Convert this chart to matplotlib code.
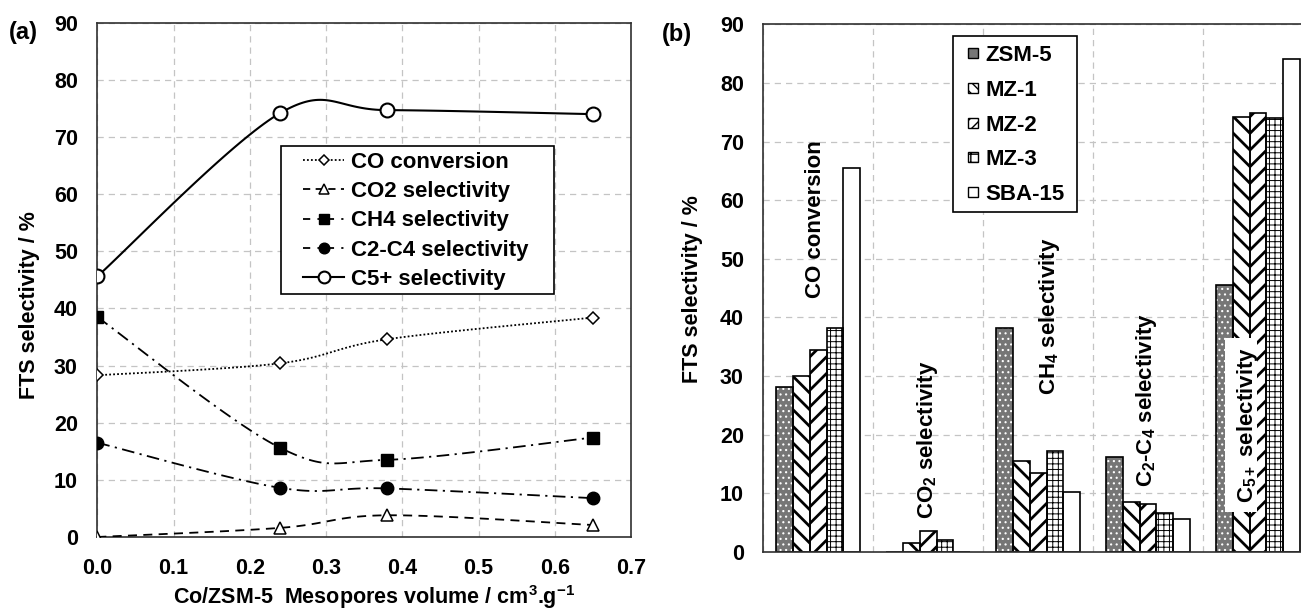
import numpy as np
import matplotlib
matplotlib.use('Agg')
import matplotlib.pyplot as plt
from matplotlib.patches import Rectangle
from matplotlib.lines import Line2D

# ---------------- data ----------------
meso_volume = [0.0, 0.24, 0.38, 0.65]
co_conversion = [28.3, 30.4, 34.6, 38.4]
co2_sel = [0.0, 1.6, 3.8, 2.1]
ch4_sel = [38.5, 15.6, 13.5, 17.4]
c2c4_sel = [16.5, 8.6, 8.5, 6.8]
c5_sel = [45.6, 74.2, 74.7, 74.0]
line_labels = ['CO conversion', 'CO2 selectivity', 'CH4 selectivity',
               'C2-C4 selectivity', 'C5+ selectivity']

bar_groups = ['CO conversion', 'CO$_2$ selectivity', 'CH$_4$ selectivity',
              'C$_2$-C$_4$ selectivity', 'C$_{5+}$ selectivity']
catalysts = ['ZSM-5', 'MZ-1', 'MZ-2', 'MZ-3', 'SBA-15']
zsm5 = [28.1, 0.0, 38.2, 16.2, 45.5]
mz1 = [30.1, 1.5, 15.5, 8.5, 74.2]
mz2 = [34.4, 3.5, 13.5, 8.2, 74.8]
mz3 = [38.2, 2.0, 17.2, 6.6, 74.0]
sba15 = [65.5, 0.0, 10.3, 5.6, 84.0]

x_ticks_a = [0.0, 0.1, 0.2, 0.3, 0.4, 0.5, 0.6, 0.7]
y_ticks = [0, 10, 20, 30, 40, 50, 60, 70, 80, 90]

# ---------------- style ----------------
plt.rcParams['font.family'] = ['Liberation Sans', 'DejaVu Sans']
plt.rcParams['font.weight'] = 'bold'
plt.rcParams['mathtext.fontset'] = 'custom'
plt.rcParams['mathtext.rm'] = 'Liberation Sans:bold'
plt.rcParams['mathtext.it'] = 'Liberation Sans:bold'
plt.rcParams['mathtext.bf'] = 'Liberation Sans:bold'
plt.rcParams['mathtext.default'] = 'rm'
plt.rcParams['hatch.linewidth'] = 1.8

W, H = 1301, 609
fig = plt.figure(figsize=(W / 100, H / 100), dpi=100)

TICK_FS = 15.5
LAB_FS = 15.5
LEG_FS = 16
GRID = dict(color='#c4c4c4', linestyle=(0, (5, 4)), linewidth=0.9)


def px_rect(l, t, r, b):
    return [l / W, 1 - b / H, (r - l) / W, (b - t) / H]


def smooth(xs, ys, n=40):
    """Excel-like smoothed line (Catmull-Rom Bezier) through the data points."""
    p = np.column_stack([xs, ys]).astype(float)
    pts = np.vstack([p[0], p, p[-1]])
    t = np.linspace(0, 1, n)[:, None]
    out = []
    for i in range(1, len(pts) - 2):
        p0, p1, p2, p3 = pts[i - 1], pts[i], pts[i + 1], pts[i + 2]
        c1 = p1 + (p2 - p0) / 6
        c2 = p2 - (p3 - p1) / 6
        seg = ((1 - t) ** 3) * p1 + 3 * ((1 - t) ** 2) * t * c1 + 3 * (1 - t) * t ** 2 * c2 + t ** 3 * p2
        out.append(seg if i == 1 else seg[1:])
    s = np.vstack(out)
    return s[:, 0], s[:, 1]


# ================= panel (a) =================
ax = fig.add_axes(px_rect(97.3, 22.7, 631, 537))
series = [
    (co_conversion, dict(ls=(0, (1, 1.2)), lw=1.3), dict(marker='D', ms=6, mfc='white', mew=1.1),
     dict(ls=(0, (1, 1.2)))),
    (co2_sel, dict(ls=(0, (5, 3.5)), lw=1.3), dict(marker='^', ms=8, mfc='white', mew=1.1),
     dict(ls=(0, (4, 3)))),
    (ch4_sel, dict(ls=(0, (7, 3, 1.2, 3)), lw=1.3), dict(marker='s', ms=9, mfc='black', mew=1.0),
     dict(ls=(0, (4, 4, 1.2, 4)))),
    (c2c4_sel, dict(ls=(0, (7, 3, 1.2, 3)), lw=1.3), dict(marker='o', ms=9, mfc='black', mew=1.0),
     dict(ls=(0, (4, 4, 1.2, 4)))),
    (c5_sel, dict(ls='-', lw=1.5), dict(marker='o', ms=10, mfc='white', mew=1.5),
     dict(ls='-')),
]
handles = []
for vals, lsty, msty, legls in series:
    sx, sy = smooth(meso_volume, vals)
    ax.plot(sx, sy, color='black', zorder=3, **lsty)
    ax.plot(meso_volume, vals, ls='none', color='black', mec='black', zorder=4, **msty)
    hs = dict(msty)
    hs['ms'] = msty['ms'] * 0.85
    handles.append(Line2D([], [], color='black', mec='black', lw=lsty['lw'], **legls, **hs))

ax.set_xlim(0, 0.7)
ax.set_ylim(0, 90)
ax.set_xticks(x_ticks_a)
ax.set_xticklabels(['%.1f' % v for v in x_ticks_a])
ax.set_yticks(y_ticks)
ax.tick_params(axis='both', length=0, labelsize=TICK_FS)
ax.tick_params(axis='y', pad=14)
ax.tick_params(axis='x', pad=15)
ax.grid(True, **GRID)
ax.set_axisbelow(True)
for s in ax.spines.values():
    s.set_color('#303030')
    s.set_linewidth(1.2)

# legend frame + legend
ax.add_patch(Rectangle((281 / W, 1 - 294 / H), (554 - 281) / W, (294 - 146) / H,
                       transform=fig.transFigure, fc='white', ec='black', lw=1.2,
                       zorder=5, clip_on=False))
leg = ax.legend(handles, line_labels, loc='upper left',
                bbox_to_anchor=(303 / W, 1 - 152 / H), bbox_transform=fig.transFigure,
                frameon=False, fontsize=LEG_FS, borderpad=0, borderaxespad=0,
                handlelength=1.85, handletextpad=0.3, labelspacing=0.37, numpoints=1)
leg.set_zorder(6)

fig.text(374 / W, 1 - 597 / H, 'Co/ZSM-5  Mesopores volume / cm$^{3}$.g$^{-1}$',
         ha='center', va='center', fontsize=LAB_FS, fontweight='bold')
fig.text(30 / W, 1 - 305 / H, 'FTS selectivity / %', rotation=90,
         ha='center', va='center', fontsize=LAB_FS, fontweight='bold')
fig.text(9 / W, 1 - 33 / H, '(a)', ha='left', va='center', fontsize=17, fontweight='bold')

# ================= panel (b) =================
bx = fig.add_axes(px_rect(763.3, 24.3, 1313, 552))
xg = np.arange(len(bar_groups))
bw = 0.152
bar_sets = [zsm5, mz1, mz2, mz3, sba15]
styles = [
    dict(fc='#767676', hatch='...', hc='white', hlw=0.8, lh=None),
    dict(fc='white', hatch='\\\\', hc='black', hlw=2.0, lh='\\\\\\'),
    dict(fc='white', hatch='//', hc='black', hlw=2.0, lh='///'),
    dict(fc='white', hatch='+++', hc='black', hlw=0.7, lh='++'),
    dict(fc='white', hatch=None, hc='black', hlw=1.0, lh=None),
]
leg_handles = []
for i, (vals, st) in enumerate(zip(bar_sets, styles)):
    pos = xg + (i - 2) * bw
    plt.rcParams['hatch.linewidth'] = st['hlw']
    b1 = bx.bar(pos, vals, width=bw, color=st['fc'], edgecolor=st['hc'],
                hatch=st['hatch'], linewidth=0, zorder=2)
    for p in b1:
        if hasattr(p, 'set_hatch_linewidth'):
            p.set_hatch_linewidth(st['hlw'])
    bx.bar(pos, vals, width=bw, fill=False, edgecolor='black', linewidth=1.2, zorder=2.5)
    plt.rcParams['hatch.linewidth'] = 1.2
    h = Rectangle((0, 0), 1, 1, fc=st['fc'], ec='black', hatch=st['lh'], lw=1.0)
    if hasattr(h, 'set_hatch_linewidth'):
        h.set_hatch_linewidth(1.2)
    leg_handles.append(h)
plt.rcParams['hatch.linewidth'] = 1.0

bx.set_xlim(-0.5, len(bar_groups) - 0.5)
bx.set_ylim(0, 90)
bx.set_yticks(y_ticks)
bx.set_xticks(np.arange(len(bar_groups) + 1) - 0.5)
bx.set_xticklabels([])
bx.tick_params(axis='both', length=0, labelsize=TICK_FS)
bx.tick_params(axis='y', pad=14)
bx.grid(True, **GRID)
bx.set_axisbelow(True)
for s in bx.spines.values():
    s.set_color('#303030')
    s.set_linewidth(1.2)

# rotated category labels
label_pos = [(-0.025, 56.7), (0.99, 19.2), (2.10, 40.2), (2.99, 25.9), (3.90, 21.6)]
bx.add_patch(Rectangle((3.70, 6.8), 0.29, 29.7, fc='white', ec='none', zorder=3))
for name, (lx, ly) in zip(bar_groups, label_pos):
    bx.text(lx, ly, name, rotation=90, ha='center', va='center', fontsize=16,
            fontweight='bold', zorder=4)

bx.add_patch(Rectangle((953 / W, 1 - 212 / H), (1077 - 953) / W, (212 - 36) / H,
                       transform=fig.transFigure, fc='white', ec='black', lw=1.2,
                       zorder=5, clip_on=False))
leg2 = bx.legend(leg_handles, catalysts, loc='upper left',
                 bbox_to_anchor=(968 / W, 1 - 45 / H), bbox_transform=fig.transFigure,
                 frameon=False, fontsize=LEG_FS, borderpad=0, borderaxespad=0,
                 handlelength=0.45, handleheight=0.32, handletextpad=0.35,
                 labelspacing=0.62)
leg2.set_zorder(6)

fig.text(692 / W, 1 - 289 / H, 'FTS selectivity / %', rotation=90,
         ha='center', va='center', fontsize=LAB_FS, fontweight='bold')
fig.text(662 / W, 1 - 35 / H, '(b)', ha='left', va='center', fontsize=17, fontweight='bold')

fig.savefig('out.png', dpi=100)
